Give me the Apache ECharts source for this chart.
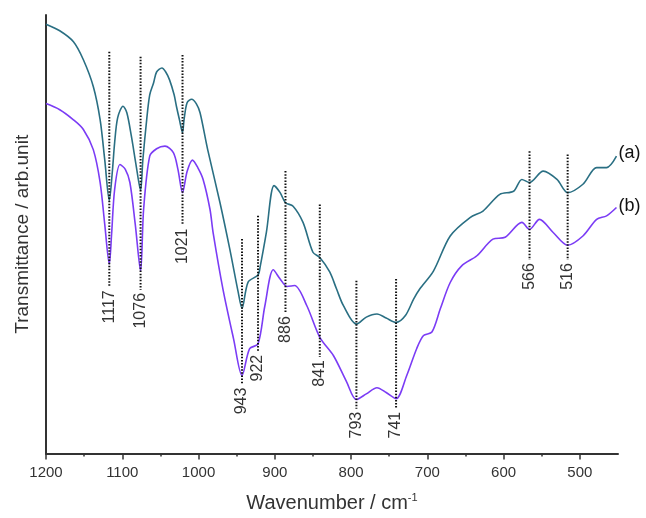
<!DOCTYPE html>
<html>
<head>
<meta charset="utf-8">
<script src="https://cdn.jsdelivr.net/npm/echarts@6/dist/echarts.min.js"></script>
<style>
  html, body { margin: 0; padding: 0; background: #fff; }
  #chart { width: 646px; height: 518px; }
</style>
</head>
<body>
<div id="chart"></div>
<script>
// FTIR transmittance spectra, traces (a) and (b), arbitrary vertical units
const wavenumberA = [1200, 1182, 1164, 1151, 1138, 1129, 1123, 1117, 1113, 1110, 1106, 1099, 1094, 1088, 1082, 1076, 1073, 1068, 1064, 1059, 1055, 1048, 1043, 1038, 1032, 1029, 1025, 1021, 1019, 1015, 1009, 1003, 998, 988, 972, 959, 948, 943, 935, 922, 919, 911, 901, 893, 886, 876, 863, 850, 841, 828, 819, 810, 793, 780, 766, 754, 741, 729, 718, 710, 692, 670, 644, 627, 605, 587, 576, 566, 548, 530, 516, 496, 478, 465, 452];
const transmittanceA = [97.9, 96.4, 93.9, 89.8, 83.7, 76.1, 67.0, 57.7, 64.3, 70.9, 76.6, 79.2, 77.7, 72.3, 65.9, 60.0, 67.0, 76.1, 81.8, 84.5, 87.0, 87.9, 87.0, 85.2, 81.8, 79.2, 76.1, 73.2, 76.1, 80.0, 80.8, 79.8, 77.7, 69.3, 57.3, 46.6, 36.8, 33.1, 39.1, 40.7, 42.8, 50.5, 61.1, 59.5, 57.2, 56.4, 52.7, 45.9, 44.7, 41.4, 37.5, 33.7, 29.5, 31.1, 31.8, 30.9, 29.9, 31.4, 35.2, 37.5, 41.6, 49.6, 53.8, 55.3, 59.1, 59.8, 62.5, 61.8, 64.4, 62.5, 59.5, 61.4, 65.2, 65.2, 67.8];

const wavenumberB = [1200, 1182, 1164, 1151, 1138, 1129, 1123, 1117, 1114, 1110, 1103, 1096, 1090, 1083, 1076, 1072, 1064, 1055, 1044, 1033, 1027, 1021, 1015, 1008, 1001, 994, 985, 981, 968, 954, 943, 933, 922, 913, 902, 893, 884, 874, 858, 841, 823, 806, 793, 780, 766, 754, 741, 727, 714, 705, 694, 683, 670, 655, 635, 614, 598, 576, 566, 553, 535, 516, 496, 478, 465, 452];
const transmittanceB = [79.8, 78.4, 76.1, 73.9, 69.3, 61.8, 52.3, 43.2, 50.0, 60.2, 65.9, 64.8, 61.8, 52.3, 41.6, 55.7, 67.8, 69.5, 70.1, 68.6, 64.8, 59.5, 64.3, 66.9, 65.2, 62.5, 55.7, 50.5, 37.5, 26.1, 17.8, 23.9, 25.0, 33.7, 41.9, 39.8, 38.1, 38.3, 33.7, 26.5, 22.3, 16.4, 12.3, 13.6, 15.0, 13.9, 12.5, 17.8, 23.9, 26.9, 27.7, 33.0, 39.0, 42.8, 45.1, 48.9, 49.3, 52.7, 51.1, 53.4, 50.4, 47.5, 49.6, 53.4, 54.2, 56.1];

// Assigned band positions (cm-1) with the vertical extent of each guide line
const peakWavenumbers = [1117, 1076, 1021, 943, 922, 886, 841, 793, 741, 566, 516];
const peakLineTop     = [91.6, 90.5, 90.9, 48.9, 54.2, 64.4, 56.8, 39.4, 39.8, 68.9, 68.2];
const peakLineBottom  = [37.9, 37.3, 52.0, 15.7, 23.2, 32.0, 22.0, 10.2, 10.2, 44.1, 44.1];

const majorTicks = [1200, 1100, 1000, 900, 800, 700, 600, 500];
const minorTicks = [1150, 1050, 950, 850, 750, 650, 550];

const FONT = "'Liberation Sans', Arial, sans-serif";

function zip(xs, ys) { return xs.map((x, i) => [x, ys[i]]); }

const chart = echarts.init(document.getElementById('chart'), null, { renderer: 'canvas' });

const traceLabel = {
  show: true,
  fontFamily: FONT,
  fontSize: 18,
  color: '#111',
  align: 'left',
  verticalAlign: 'middle',
  distance: 0
};

chart.setOption({
  animation: false,
  backgroundColor: '#ffffff',
  textStyle: { fontFamily: FONT },
  grid: { left: 46, right: 28, top: 15, bottom: 63, containLabel: false },
  xAxis: [
    {
      type: 'value',
      min: 450,
      max: 1200,
      inverse: true,
      position: 'bottom',
      name: 'Wavenumber / cm{sup|-1}',
      nameLocation: 'middle',
      nameGap: 39,
      nameTextStyle: {
        fontFamily: FONT, fontSize: 20, color: '#333',
        rich: { sup: { fontFamily: FONT, fontSize: 11, color: '#333', padding: [0, 0, 10, 0] } }
      },
      axisLine: { show: true, onZero: false, lineStyle: { color: '#333', width: 2 } },
      axisTick: { show: true, inside: false, length: 6, customValues: majorTicks, lineStyle: { color: '#333', width: 1.5 } },
      axisLabel: {
        show: true, customValues: majorTicks, margin: 12,
        fontFamily: FONT, fontSize: 15, color: '#333',
        formatter: function (v) { return String(v); }
      },
      splitLine: { show: false }
    },
    {
      type: 'value',
      min: 450,
      max: 1200,
      inverse: true,
      position: 'bottom',
      axisLine: { show: false },
      axisTick: { show: true, inside: false, length: 3, customValues: minorTicks, lineStyle: { color: '#333', width: 1.5 } },
      axisLabel: { show: false },
      splitLine: { show: false }
    }
  ],
  yAxis: {
    type: 'value',
    min: 0,
    max: 100,
    name: 'Transmittance / arb.unit',
    nameLocation: 'middle',
    nameGap: 14,
    nameTextStyle: { fontFamily: FONT, fontSize: 19, color: '#333' },
    axisLine: { show: true, onZero: false, lineStyle: { color: '#333', width: 2 } },
    axisTick: { show: false },
    axisLabel: { show: false },
    splitLine: { show: false }
  },
  series: [
    {
      name: '(a)',
      type: 'line',
      data: zip(wavenumberA, transmittanceA),
      showSymbol: false,
      smooth: 0.3,
      lineStyle: { color: '#2a6f83', width: 1.6 },
      endLabel: Object.assign({ formatter: '(a)', offset: [2, -3] }, traceLabel),
      z: 2
    },
    {
      name: '(b)',
      type: 'line',
      data: zip(wavenumberB, transmittanceB),
      showSymbol: false,
      smooth: 0.3,
      lineStyle: { color: '#7b3cf5', width: 1.6 },
      endLabel: Object.assign({ formatter: '(b)', offset: [2, -1] }, traceLabel),
      z: 2
    },
    {
      name: 'bands',
      type: 'custom',
      clip: false,
      z: 3,
      data: peakWavenumbers.map((w, i) => [w, peakLineTop[i], peakLineBottom[i]]),
      renderItem: function (params, api) {
        const w = api.value(0);
        const top = api.coord([w, api.value(1)]);
        const bottom = api.coord([w, api.value(2)]);
        return {
          type: 'group',
          children: [
            {
              type: 'line',
              shape: { x1: top[0], y1: top[1], x2: bottom[0], y2: bottom[1] },
              style: { stroke: '#111', lineWidth: 2, lineDash: [1.5, 1.6] }
            },
            {
              type: 'text',
              x: bottom[0],
              y: bottom[1] + 3,
              rotation: Math.PI / 2,
              style: {
                text: String(w),
                align: 'right',
                verticalAlign: 'middle',
                font: '16px ' + FONT,
                fill: '#333'
              }
            }
          ]
        };
      }
    }
  ]
});
</script>
</body>
</html>
